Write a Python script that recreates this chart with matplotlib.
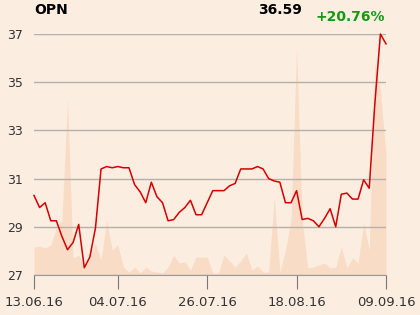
import matplotlib
matplotlib.use("Agg")
import matplotlib.pyplot as plt

# daily close prices (trading days 13.06.16 .. 09.09.16)
prices = [
    30.30, 29.80, 30.00, 29.25, 29.25, 28.60, 28.05, 28.35, 29.10, 27.30,
    27.75, 28.95, 31.40, 31.50, 31.45, 31.50, 31.45, 31.45, 30.75, 30.45,
    30.00, 30.85, 30.25, 30.00, 29.25, 29.30, 29.60, 29.80, 30.10, 29.50,
    29.50, 30.00, 30.50, 30.50, 30.50, 30.70, 30.80, 31.40, 31.40, 31.40,
    31.50, 31.40, 31.00, 30.90, 30.85, 30.00, 30.00, 30.50, 29.30, 29.35,
    29.25, 29.00, 29.35, 29.75, 29.00, 30.35, 30.40, 30.15, 30.15, 30.95,
    30.60, 34.10, 37.00, 36.59,
]

# traded volume (relative units)
volumes = [
    28, 29, 27, 30, 47, 55, 175, 17, 20, 7,
    20, 32, 15, 55, 25, 30, 8, 3, 8, 2,
    8, 4, 3, 2, 8, 20, 12, 13, 5, 18,
    18, 18, 2, 2, 20, 14, 8, 14, 22, 5,
    9, 3, 3, 78, 3, 25, 55, 227, 55, 7,
    8, 10, 12, 7, 8, 28, 7, 17, 12, 52,
    25, 211, 185, 120,
]

tick_idx = [0, 15, 31, 47, 63]
tick_labels = ["13.06.16", "04.07.16", "26.07.16", "18.08.16", "09.09.16"]
y_ticks = [27, 29, 31, 33, 35, 37]

symbol = "OPN"
last_price = "36.59"
change = "+20.76%"

bg = "#fcede1"
x = list(range(len(prices)))

fig = plt.figure(figsize=(4.2, 3.15), dpi=100, facecolor=bg)
ax = fig.add_axes([34 / 420, 40 / 315, 352 / 420, 241 / 315])
ax.set_facecolor(bg)

# volume in the background
ax2 = ax.twinx()
ax2.fill_between(x, volumes, 0, color="#f9dcc6", linewidth=0)
ax2.set_ylim(0, 241)
ax2.axis("off")
ax.set_zorder(ax2.get_zorder() + 1)
ax.patch.set_visible(False)
fig.patch.set_facecolor(bg)

ax.plot(x, prices, color="#d40000", linewidth=1.1, clip_on=False, zorder=3)

ax.set_xlim(0, len(prices) - 1)
ax.set_ylim(27, 37)
ax.set_yticks(y_ticks)
ax.set_xticks(tick_idx)
ax.set_xticklabels(tick_labels)
ax.grid(axis="y", color="#b4b0ac", linewidth=1)
ax.set_axisbelow(True)

for s in ["top", "right", "left"]:
    ax.spines[s].set_visible(False)
ax.spines["bottom"].set_color("#9a9a9a")
ax.tick_params(axis="x", length=10, color="#777777", pad=5,
               labelsize=9.5, labelcolor="#333333")
ax.tick_params(axis="y", length=0, pad=8, labelsize=9, labelcolor="#333333")

fig.text(34 / 420, 1 - 10 / 315, symbol, fontsize=10, fontweight="bold",
         ha="left", va="center")
fig.text(302 / 420, 1 - 10 / 315, last_price, fontsize=10, fontweight="bold",
         ha="right", va="center")
fig.text(385 / 420, 1 - 17 / 315, change, fontsize=10, fontweight="bold",
         color="#139a13", ha="right", va="center")

fig.savefig("out.png", dpi=100, facecolor=bg)
